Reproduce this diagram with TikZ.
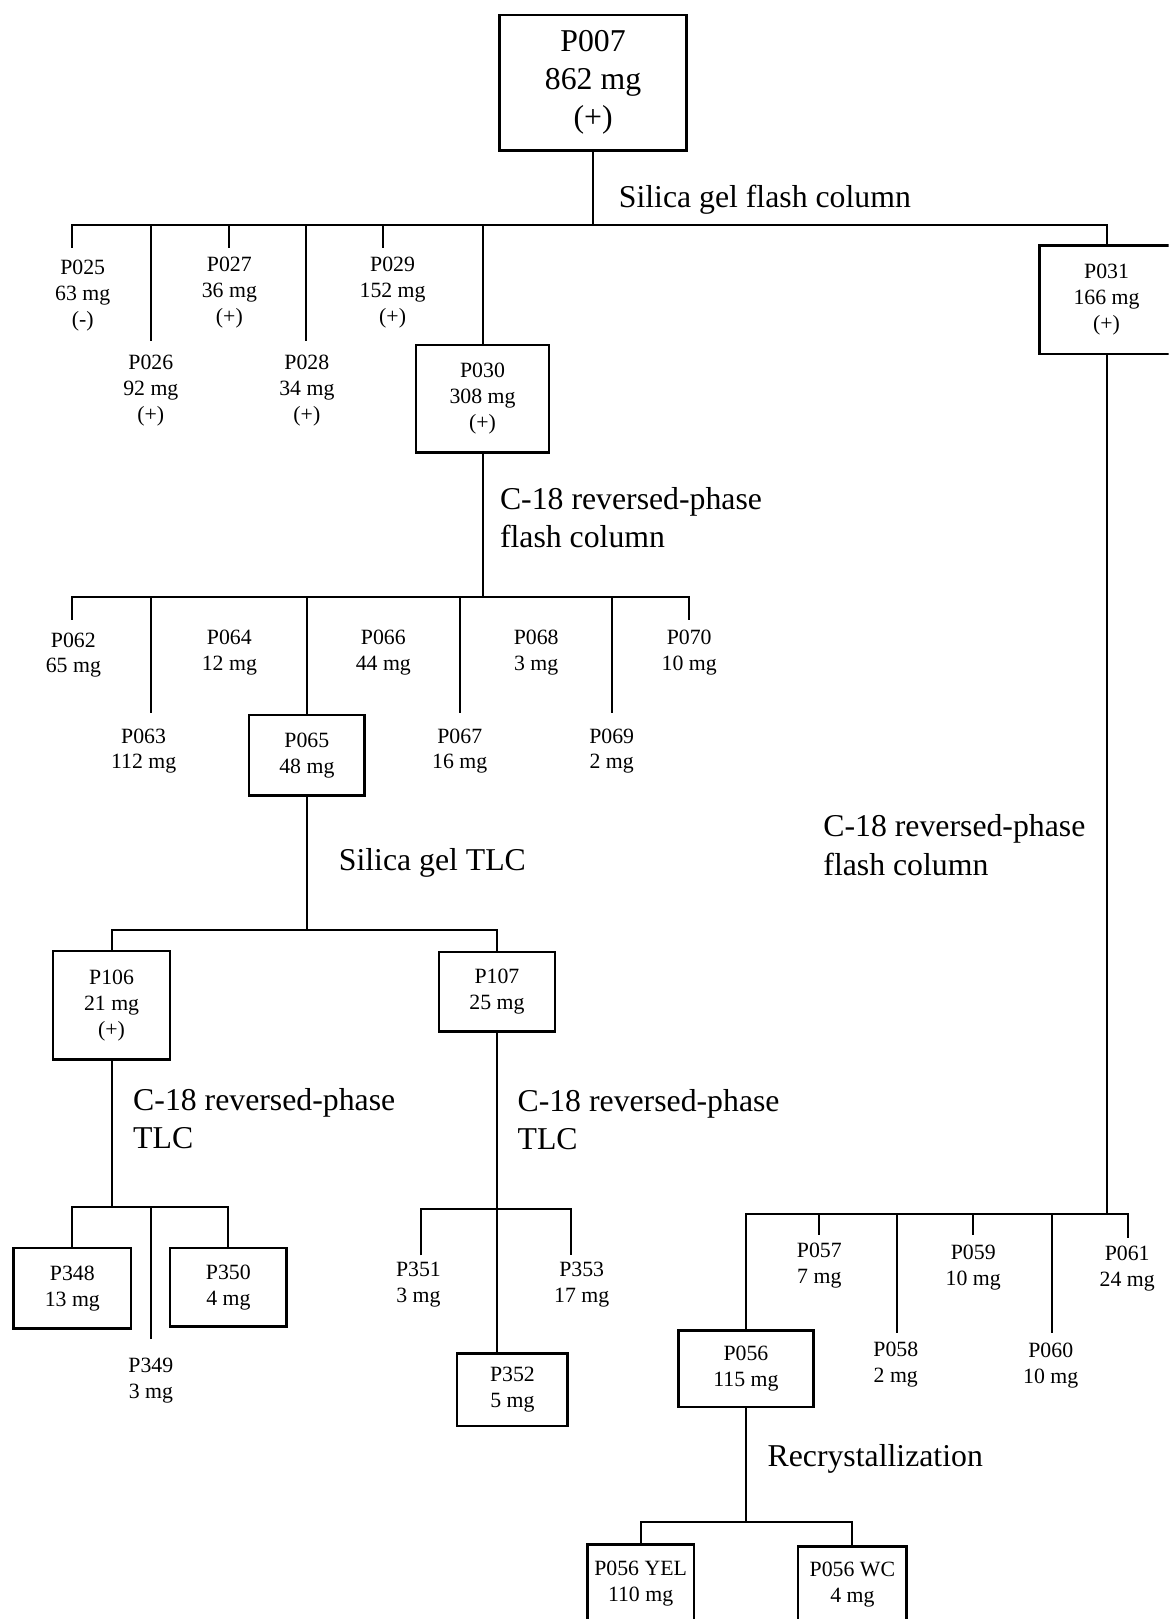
\documentclass[tikz,border=0pt]{standalone}
\usepackage{fontspec}
\setmainfont{Liberation Serif}
\newcommand{\bigtxt}{\fontsize{17.5}{21}\selectfont}
\newcommand{\smalltxt}{\fontsize{12}{14.2}\selectfont}
\tikzset{
  fbox/.style={draw, line width=1.4pt, align=center, inner sep=0pt, font=\smalltxt},
  frac/.style={align=center, inner sep=0pt, font=\smalltxt},
  meth/.style={align=left, anchor=west, inner sep=0pt, font=\bigtxt},
}
\begin{document}
\begin{tikzpicture}[x=0.02cm, y=-0.02cm, line width=1.1pt]
  \useasboundingbox (0,0) rectangle (1131,1567);
  \clip (0,0) rectangle (1131,1567);

  % crude extract
  \node[fbox, font=\bigtxt, minimum width=3.62cm, minimum height=2.62cm] (p007) at (574,80) {P007\\862 mg\\(+)};
  \coordinate (b1) at (574,218);
  \draw (p007) -- (b1);
  \node[meth] (m1) at (598,193) {Silica gel flash column};

  % silica gel fractions
  \node[frac] (p025) at (80,286) {P025\\63 mg\\(-)};
  \node[frac] (p026) at (146,378) {P026\\92 mg\\(+)};
  \node[frac] (p027) at (222,283) {P027\\36 mg\\(+)};
  \node[frac] (p028) at (297,378) {P028\\34 mg\\(+)};
  \node[frac] (p029) at (380,283) {P029\\152 mg\\(+)};
  \node[fbox, minimum width=2.58cm, minimum height=2.08cm] (p030) at (467,386) {P030\\308 mg\\(+)};
  \node[fbox, minimum width=2.6cm, minimum height=2.1cm] (p031) at (1071,290) {P031\\166 mg\\(+)};
  \coordinate (d025) at (70,240);
  \coordinate (d026) at (146,330);
  \coordinate (d027) at (222,240);
  \coordinate (d028) at (296,330);
  \coordinate (d029) at (371,240);
  \draw (d025) -- (d025 |- b1) -- (p031 |- b1) -- (p031);
  \foreach \n in {026,027,028,029}
    \draw (d\n) -- (d\n |- b1);
  \draw (p030) -- (p030 |- b1);

  % P030
  \coordinate (b2) at (467,578);
  \draw (p030) -- (b2);
  \node[meth] (m2) at (483,501) {C-18 reversed-phase\\flash column};
  \node[frac] (p062) at (71,634) {P062\\65 mg};
  \node[frac] (p063) at (139,727) {P063\\112 mg};
  \node[frac] (p064) at (222,632) {P064\\12 mg};
  \node[fbox, minimum width=2.24cm, minimum height=1.56cm] (p065) at (297,731) {P065\\48 mg};
  \node[frac] (p066) at (371,632) {P066\\44 mg};
  \node[frac] (p067) at (445,727) {P067\\16 mg};
  \node[frac] (p068) at (519,632) {P068\\3 mg};
  \node[frac] (p069) at (592,727) {P069\\2 mg};
  \node[frac] (p070) at (667,632) {P070\\10 mg};
  \coordinate (d062) at (70,600);
  \coordinate (d063) at (146,690);
  \coordinate (d067) at (445,690);
  \coordinate (d069) at (592,690);
  \coordinate (d070) at (667,600);
  \draw (d062) -- (d062 |- b2) -- (d070 |- b2) -- (d070);
  \foreach \n in {063,067,069}
    \draw (d\n) -- (d\n |- b2);
  \draw (p065) -- (p065 |- b2);

  % P065
  \coordinate (b3) at (297,900);
  \draw (p065) -- (b3);
  \node[meth] (m3) at (327,835) {Silica gel TLC};
  \node[fbox, minimum width=2.26cm, minimum height=2.1cm] (p106) at (108,973) {P106\\21 mg\\(+)};
  \node[fbox, minimum width=2.24cm, minimum height=1.54cm] (p107) at (481,960) {P107\\25 mg};
  \draw (p106) -- (p106 |- b3) -- (p107 |- b3) -- (p107);

  % P106
  \coordinate (b4) at (108,1168);
  \draw (p106) -- (b4);
  \node[meth] (m4) at (128,1083) {C-18 reversed-phase\\TLC};
  \node[fbox, minimum width=2.28cm, minimum height=1.56cm] (p348) at (70,1247) {P348\\13 mg};
  \node[frac] (p349) at (146,1336) {P349\\3 mg};
  \node[fbox, minimum width=2.26cm, minimum height=1.52cm] (p350) at (221,1246) {P350\\4 mg};
  \coordinate (d349) at (146,1296);
  \draw (p348) -- (p348 |- b4) -- (p350 |- b4) -- (p350);
  \draw (d349) -- (d349 |- b4);

  % P107
  \coordinate (b5) at (481,1170);
  \draw (p107) -- (b5);
  \node[meth] (m5) at (500,1084) {C-18 reversed-phase\\TLC};
  \node[frac] (p351) at (405,1243) {P351\\3 mg};
  \node[fbox, minimum width=2.14cm, minimum height=1.4cm] (p352) at (496,1345) {P352\\5 mg};
  \node[frac] (p353) at (563,1243) {P353\\17 mg};
  \coordinate (d351) at (407,1215);
  \coordinate (d353) at (553,1215);
  \draw (d351) -- (d351 |- b5) -- (d353 |- b5) -- (d353);
  \draw (b5) -- (b5 |- p352.north);

  % P031
  \coordinate (b6) at (1071,1175);
  \draw (p031) -- (b6);
  \node[meth] (m6) at (796,818) {C-18 reversed-phase\\flash column};
  \node[fbox, minimum width=2.62cm, minimum height=1.48cm] (p056) at (722,1325) {P056\\115 mg};
  \node[frac] (p057) at (793,1225) {P057\\7 mg};
  \node[frac] (p058) at (867,1321) {P058\\2 mg};
  \node[frac] (p059) at (942,1227) {P059\\10 mg};
  \node[frac] (p060) at (1017,1322) {P060\\10 mg};
  \node[frac] (p061) at (1091,1228) {P061\\24 mg};
  \coordinate (d057) at (793,1195);
  \coordinate (d058) at (868,1290);
  \coordinate (d059) at (942,1195);
  \coordinate (d060) at (1018,1290);
  \coordinate (d061) at (1092,1198);
  \draw (p056) -- (p056 |- b6) -- (d061 |- b6) -- (d061);
  \foreach \n in {057,058,059,060}
    \draw (d\n) -- (d\n |- b6);

  % P056
  \coordinate (b7) at (722,1473);
  \draw (p056) -- (b7);
  \node[meth] (m7) at (742,1412) {Recrystallization};
  \node[fbox, minimum width=2.06cm, minimum height=1.52cm] (yel) at (620,1533) {P056 YEL\\110 mg};
  \node[fbox, minimum width=2.1cm, minimum height=1.48cm] (wc) at (825,1534) {P056 WC\\4 mg};
  \draw (yel) -- (yel |- b7) -- (wc |- b7) -- (wc);
\end{tikzpicture}
\end{document}
